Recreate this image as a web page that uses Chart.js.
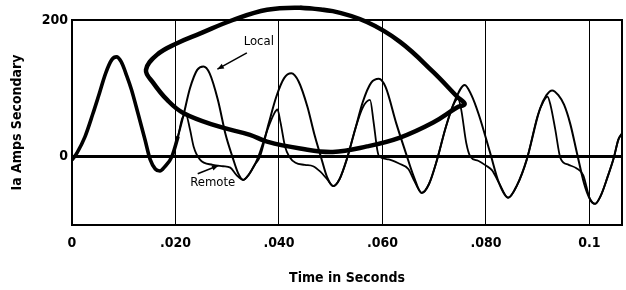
<!DOCTYPE html>
<html>
<head>
<meta charset="utf-8">
<script src="https://cdn.jsdelivr.net/npm/chart.js@4.4.1/dist/chart.umd.min.js"></script>
<style>
    html, body { margin: 0; padding: 0; background: #fff; }
    #wrap { width: 626px; height: 290px; }
</style>
</head>
<body>
<div id="wrap"><canvas id="faultChart"></canvas></div>
<script>
        // Valores
        const localTime = [0, 0.0010, 0.0025, 0.0040, 0.0051, 0.0065, 0.0077, 0.0086, 0.0095, 0.0106, 0.0115, 0.0128, 0.0141, 0.0151, 0.0161, 0.0170, 0.0179, 0.0193, 0.0205, 0.0215,
            0.0228, 0.0242, 0.0254, 0.0266, 0.0282, 0.0297, 0.0310, 0.0321, 0.0331, 0.0342, 0.0353, 0.0363, 0.0380, 0.0395, 0.0410, 0.0424, 0.0438, 0.0455, 0.0468, 0.0481,
            0.0493, 0.0505, 0.0517, 0.0531, 0.0548, 0.0562, 0.0578, 0.0593, 0.0606, 0.0627, 0.0645, 0.0660, 0.0676, 0.0690, 0.0705, 0.0722, 0.0740, 0.0759, 0.0772, 0.0786,
            0.0808, 0.0825, 0.0843, 0.0860, 0.0879, 0.0904, 0.0917, 0.0928, 0.0940, 0.0951, 0.0963, 0.0976, 0.0990, 0.1001, 0.1011, 0.1022, 0.1035, 0.1047, 0.1056, 0.1063];
        const localAmps = [-5, 6, 29, 62, 88, 122, 142, 146, 139, 118, 98, 62, 25, -4, -18, -21, -15, 0, 30, 59,
            100, 127, 132, 122, 83, 32, 0, -24, -34, -26, -12, 0, 48, 88, 115, 122, 110, 73, 34, 0,
            -30, -43, -33, -4, 42, 80, 108, 114, 102, 48, 6, -28, -53, -40, -6, 42, 82, 105, 90, 62,
            6, -38, -60, -42, -4, 69, 90, 97, 90, 76, 48, 5, -40, -62, -69, -57, -30, -2, 25, 34];

        const remoteTime = [0, 0.0010, 0.0025, 0.0040, 0.0051, 0.0065, 0.0077, 0.0086, 0.0095, 0.0106, 0.0115, 0.0128, 0.0141, 0.0151, 0.0161, 0.0170, 0.0179, 0.0193, 0.0205, 0.0213,
            0.0220, 0.0228, 0.0235, 0.0247, 0.0272, 0.0292, 0.0306, 0.0318, 0.0331, 0.0342, 0.0353, 0.0360, 0.0378, 0.0390, 0.0397, 0.0403, 0.0412, 0.0420, 0.0432, 0.0450,
            0.0466, 0.0480, 0.0493, 0.0505, 0.0517, 0.0531, 0.0548, 0.0562, 0.0576, 0.0583, 0.0590, 0.0594, 0.0612, 0.0632, 0.0650, 0.0662, 0.0676, 0.0690, 0.0705, 0.0722,
            0.0736, 0.0746, 0.0752, 0.0762, 0.0770, 0.0785, 0.0800, 0.0812, 0.0825, 0.0843, 0.0860, 0.0879, 0.0900, 0.0912, 0.0919, 0.0925, 0.0934, 0.0944, 0.0960, 0.0975,
            0.0988, 0.1001, 0.1011, 0.1022, 0.1035, 0.1047, 0.1056, 0.1063];
        const remoteAmps = [-5, 6, 29, 62, 88, 122, 142, 146, 139, 118, 98, 62, 25, -4, -18, -21, -15, 0, 30, 56,
            62, 40, 15, -4, -12, -14, -16, -27, -34, -26, -12, 0, 40, 62, 69, 50, 14, 0, -9, -12,
            -14, -22, -33, -43, -33, -4, 42, 72, 83, 50, 10, 0, -4, -10, -18, -36, -53, -40, -6, 42,
            74, 85, 70, 20, 0, -6, -13, -20, -38, -60, -42, -4, 60, 82, 88, 75, 40, -2, -12, -17,
            -27, -62, -69, -57, -30, -2, 25, 34];

        // Laço desenhado à mão sobre o gráfico
        const loopTime = [0.0441, 0.0504, 0.0570, 0.0634, 0.0698, 0.0744, 0.0759, 0.0744, 0.0698, 0.0634, 0.0570, 0.0504, 0.0441,
            0.0377, 0.0344, 0.0280, 0.0215, 0.0184, 0.0157, 0.0143, 0.0164, 0.0203, 0.0247, 0.0311, 0.0377, 0.0441, 0.0504];
        const loopAmps = [218, 213, 197, 168, 124, 88, 77, 72, 50, 28, 15, 7, 12,
            22, 32, 45, 64, 83, 108, 127, 149, 166, 180, 200, 215, 218, 213];

        const xTickValues = [0, 0.02, 0.04, 0.06, 0.08, 0.1];
        const xTickLabels = ['0', '.020', '.040', '.060', '.080', '0.1'];
        const yTickValues = [0, 200];
        const yTickLabels = ['0', '200'];

        const callouts = [
            { text: 'Local', at: [0.0361, 168], from: [0.0338, 152], to: [0.0281, 128] },
            { text: 'Remote', at: [0.0272, -38], from: [0.0243, -25], to: [0.0283, -13] }
        ];

        const fontFamily = "'DejaVu Sans Condensed', 'Liberation Sans Narrow', 'Liberation Sans', sans-serif";

        function toPoints(xs, ys) {
            return xs.map((x, i) => ({ x: x, y: ys[i] }));
        }

        // Moldura do gráfico
        const framePlugin = {
            id: 'frame',
            afterDatasetsDraw(chart) {
                const a = chart.chartArea;
                const ctx = chart.ctx;
                ctx.save();
                ctx.strokeStyle = '#000';
                ctx.lineWidth = 2;
                ctx.strokeRect(a.left, a.top, a.right - a.left, a.bottom - a.top);
                ctx.restore();
            }
        };

        // Rótulos com setas
        const calloutPlugin = {
            id: 'callouts',
            afterDraw(chart) {
                const ctx = chart.ctx;
                const xs = chart.scales.x, ys = chart.scales.y;
                ctx.save();
                ctx.fillStyle = '#000';
                ctx.strokeStyle = '#000';
                ctx.font = '13px ' + fontFamily;
                ctx.textAlign = 'center';
                ctx.textBaseline = 'middle';
                callouts.forEach(c => {
                    ctx.fillText(c.text, xs.getPixelForValue(c.at[0]), ys.getPixelForValue(c.at[1]));
                    const x1 = xs.getPixelForValue(c.from[0]), y1 = ys.getPixelForValue(c.from[1]);
                    const x2 = xs.getPixelForValue(c.to[0]), y2 = ys.getPixelForValue(c.to[1]);
                    ctx.lineWidth = 1.5;
                    ctx.beginPath();
                    ctx.moveTo(x1, y1);
                    ctx.lineTo(x2, y2);
                    ctx.stroke();
                    const ang = Math.atan2(y2 - y1, x2 - x1);
                    ctx.beginPath();
                    ctx.moveTo(x2, y2);
                    ctx.lineTo(x2 - 7 * Math.cos(ang - 0.4), y2 - 7 * Math.sin(ang - 0.4));
                    ctx.lineTo(x2 - 7 * Math.cos(ang + 0.4), y2 - 7 * Math.sin(ang + 0.4));
                    ctx.closePath();
                    ctx.fill();
                });
                ctx.restore();
            }
        };

        document.addEventListener('DOMContentLoaded', function() {
            const ctx = document.getElementById('faultChart').getContext('2d');
            new Chart(ctx, {
                type: 'scatter',
                data: {
                    datasets: [
                        {
                            label: 'Local',
                            data: toPoints(localTime, localAmps),
                            showLine: true,
                            borderColor: '#000',
                            borderWidth: 2,
                            pointRadius: 0,
                            cubicInterpolationMode: 'monotone',
                            segment: {
                                borderWidth: c => c.p1.parsed.x <= 0.0205 ? 3.6 : 2
                            }
                        },
                        {
                            label: 'Remote',
                            data: toPoints(remoteTime, remoteAmps),
                            showLine: true,
                            borderColor: '#000',
                            borderWidth: 1.8,
                            pointRadius: 0,
                            cubicInterpolationMode: 'monotone'
                        },
                        {
                            label: 'Loop',
                            data: toPoints(loopTime, loopAmps),
                            showLine: true,
                            borderColor: '#000',
                            borderWidth: 4.5,
                            pointRadius: 0,
                            tension: 0.4,
                            clip: false
                        }
                    ]
                },
                options: {
                    responsive: true,
                    maintainAspectRatio: false,
                    animation: false,
                    layout: { padding: { top: 20, right: 4, left: 0, bottom: 0 } },
                    plugins: {
                        legend: { display: false },
                        tooltip: { enabled: false }
                    },
                    scales: {
                        x: {
                            type: 'linear',
                            min: 0,
                            max: 0.1063,
                            afterBuildTicks: s => { s.ticks = xTickValues.map(v => ({ value: v })); },
                            afterFit: s => { s.height = 65; },
                            border: { display: false },
                            grid: {
                                color: '#000',
                                lineWidth: c => (c.tick && c.tick.value === 0) ? 0 : 1,
                                drawTicks: false
                            },
                            ticks: {
                                color: '#000',
                                autoSkip: false,
                                maxRotation: 0,
                                padding: 10,
                                font: { family: fontFamily, size: 14, weight: 'bold' },
                                callback: (v, i) => xTickLabels[i]
                            },
                            title: {
                                display: true,
                                text: 'Time in Seconds',
                                color: '#000',
                                font: { family: fontFamily, size: 14, weight: 'bold' },
                                padding: { top: 0, bottom: 3 }
                            }
                        },
                        y: {
                            min: -100,
                            max: 200,
                            afterBuildTicks: s => { s.ticks = yTickValues.map(v => ({ value: v })); },
                            afterFit: s => { s.width = 72; },
                            border: { display: false },
                            grid: {
                                color: '#000',
                                lineWidth: c => (c.tick && c.tick.value === 0) ? 3 : 0,
                                drawTicks: false
                            },
                            ticks: {
                                color: '#000',
                                padding: 4,
                                font: { family: fontFamily, size: 14, weight: 'bold' },
                                callback: (v, i) => yTickLabels[i]
                            },
                            title: {
                                display: true,
                                text: 'Ia Amps Secondary',
                                color: '#000',
                                font: { family: fontFamily, size: 14, weight: 'bold' },
                                padding: { top: 9, bottom: 0 }
                            }
                        }
                    }
                },
                plugins: [framePlugin, calloutPlugin]
            });
        });
</script>
</body>
</html>
